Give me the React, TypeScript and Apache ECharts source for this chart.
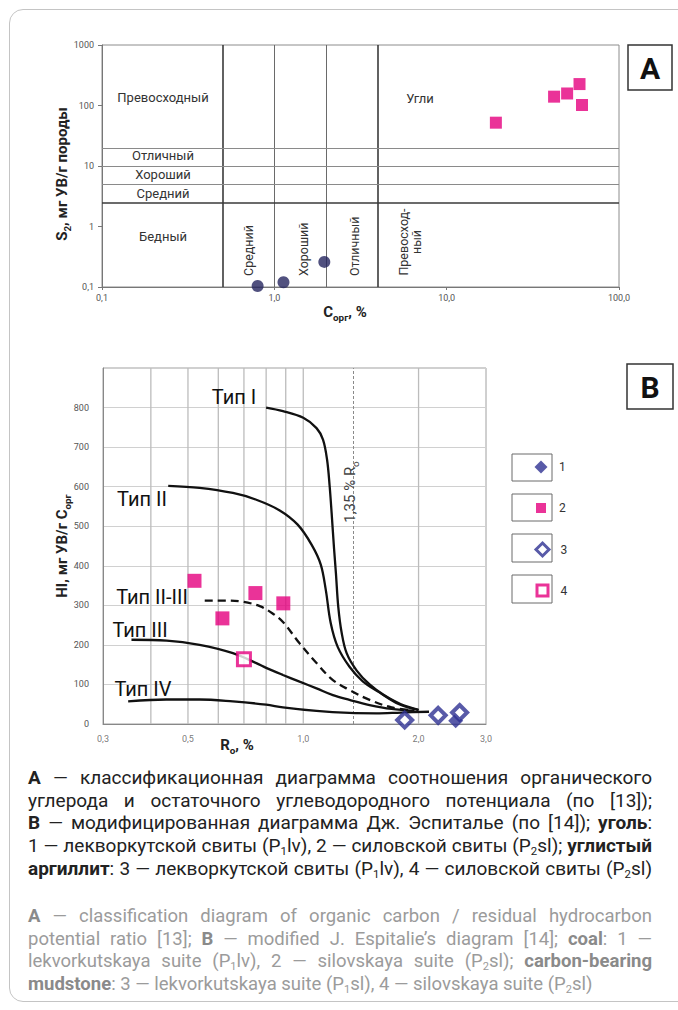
import React, { useEffect, useRef } from "react";
import * as echarts from "echarts";

const FONT = "Roboto, 'Noto Sans', 'DejaVu Sans', sans-serif";

// ---------- Diagram A : S2 vs Corg (log-log) ----------
const aCoalPoints: number[][] = [[19.3, 52], [42, 140], [50, 158], [59, 226], [61, 102]];
const aMudstonePoints: number[][] = [[0.8, 0.104], [1.13, 0.12], [1.95, 0.26]];
const aCorgBounds: number[] = [0.5, 1, 2, 4];
const aS2Bounds: number[] = [20, 10, 5, 2.5];

// ---------- Diagram B : HI vs Ro ----------
const bTypeI: number[][] = [
  [0.8, 800], [0.885, 791], [1.0, 774], [1.083, 748], [1.126, 719], [1.154, 668], [1.172, 601],
  [1.186, 533], [1.203, 445], [1.217, 381], [1.234, 297], [1.26, 230], [1.298, 179], [1.379, 135],
  [1.49, 100], [1.62, 74], [1.8, 50], [2.0, 36],
];
const bTypeII: number[][] = [
  [0.444, 602], [0.536, 597], [0.655, 584], [0.754, 567], [0.868, 540], [0.967, 504], [1.052, 453],
  [1.111, 403], [1.145, 339], [1.179, 256], [1.23, 195], [1.322, 144], [1.43, 108], [1.58, 80],
  [1.78, 50], [2.0, 35],
];
const bTypeII_III: number[][] = [
  [0.553, 312], [0.63, 312], [0.696, 309], [0.77, 298], [0.83, 280], [0.885, 258], [0.978, 204],
  [1.083, 154], [1.195, 111], [1.32, 86], [1.49, 61], [1.7, 42], [1.95, 34],
];
const bTypeIII: number[][] = [
  [0.356, 213], [0.44, 211], [0.536, 200], [0.655, 179], [0.754, 154], [0.8, 142], [0.885, 124],
  [0.978, 107], [1.083, 90], [1.195, 73], [1.32, 61], [1.49, 48], [1.7, 38], [1.95, 33],
];
const bTypeIV: number[][] = [
  [0.349, 57], [0.439, 62], [0.536, 62], [0.655, 57], [0.8, 49], [0.885, 42], [1.083, 33],
  [1.32, 28], [1.55, 27], [1.8, 29], [2.13, 31],
];
const bCoalLv: number[][] = [[2.5, 8]];
const bCoalSl: number[][] = [[0.52, 362], [0.615, 267], [0.75, 331], [0.887, 305]];
const bMudLv: number[][] = [[1.84, 10], [2.25, 22], [2.56, 29]];
const bMudSl: number[][] = [[0.7, 164]];
const bXTickLabels: number[] = [0.3, 0.5, 1, 2, 3];
const bXGridValues: number[] = [0.4, 0.5, 0.6, 0.7, 0.8, 0.9, 1, 2];
const bHIRange: number[] = [0, 900];
const bRoThreshold = 1.35;
const legendNames: string[] = ["1", "2", "3", "4"];

const PINK = "#e5007e";
const NAVY = "#2e3192";
const NAVY_A = "#26265f";

const comma = (v: number) => v.toFixed(1).replace(".", ",");

function buildOption() {
  const curve = (name: string, data: number[][], dashed = false) => ({
    type: "line",
    name,
    xAxisIndex: 1,
    yAxisIndex: 1,
    data,
    smooth: 0.35,
    showSymbol: false,
    symbol: "none",
    silent: true,
    z: 3,
    lineStyle: { color: "#111", width: 2.3, type: dashed ? [8, 5] : "solid" },
  });

  const gridLine = (v: number) => ({
    type: "line",
    name: "grid-" + v,
    xAxisIndex: 1,
    yAxisIndex: 1,
    data: bHIRange.map((h) => [v, h]),
    showSymbol: false,
    symbol: "none",
    silent: true,
    z: 1,
    lineStyle: { color: "#bcbcbc", width: 1.3, type: "solid" },
  });

  const legendLayout = [
    { icon: "diamond", size: 13, cy: 467, style: { color: NAVY } },
    { icon: "rect", size: 10, cy: 507, style: { color: PINK } },
    { icon: "diamond", size: 13, cy: 548, style: { color: "#fff", borderColor: NAVY, borderWidth: 3 } },
    { icon: "rect", size: 11, cy: 589, style: { color: "#fff", borderColor: PINK, borderWidth: 3 } },
  ];

  const richTitle = (size: number, color = "#222", bold = true) => ({
    b: { fontSize: size, fontWeight: bold ? "bold" : "normal", fontFamily: FONT, lineHeight: 20, fill: color, color },
    s: { fontSize: size * 0.66, fontWeight: bold ? "bold" : "normal", fontFamily: FONT, lineHeight: 12, verticalAlign: "bottom", fill: color, color },
  });

  const txt = (text: string, x: number, y: number, size: number, extra: any = {}) => ({
    type: "text",
    x,
    y,
    z: 50,
    silent: true,
    rotation: extra.rotation || 0,
    style: {
      text,
      fontSize: size,
      fontFamily: FONT,
      fontWeight: extra.weight || "normal",
      fill: extra.color || "#333",
      align: extra.align || "center",
      verticalAlign: "middle",
      lineHeight: extra.lineHeight,
    },
  });

  const richTxt = (text: string, x: number, y: number, size: number, rotation = 0, color = "#222", bold = true) => ({
    type: "text",
    x,
    y,
    z: 50,
    silent: true,
    rotation,
    style: { text, align: "center", verticalAlign: "middle", rich: richTitle(size, color, bold) },
  });

  const box = (x: number, y: number, w: number, h: number, stroke = "#333", lw = 1.5) => ({
    type: "rect",
    z: 40,
    silent: true,
    shape: { x, y, width: w, height: h },
    style: { fill: "#fff", stroke, lineWidth: lw },
  });

  const thinLine = { color: "#6a6a6a", width: 1, type: "solid" };
  const thickLine = { color: "#3a3a3a", width: 1.6, type: "solid" };
  const hLine = { color: "#8a8a8a", width: 1, type: "solid" };

  return {
    animation: false,
    textStyle: { fontFamily: FONT },
    grid: [
      { left: 102, top: 45, width: 517, height: 242, show: true, borderColor: "#8c8c8c", borderWidth: 1 },
      { left: 103, top: 368, width: 383, height: 356, show: true, borderColor: "#a0a0a0", borderWidth: 1 },
    ],
    xAxis: [
      {
        gridIndex: 0,
        type: "log",
        logBase: 10,
        min: 0.1,
        max: 100,
        axisLine: { lineStyle: { color: "#777" } },
        axisTick: { show: true, length: 3, lineStyle: { color: "#777" } },
        axisLabel: { fontSize: 9, color: "#555", margin: 6, formatter: (v: number) => comma(v) },
        splitLine: { show: false },
        minorTick: { show: false },
      },
      {
        gridIndex: 1,
        type: "log",
        logBase: 10,
        min: 0.3,
        max: 3,
        axisLine: { lineStyle: { color: "#888" } },
        axisTick: { show: false },
        axisLabel: { show: false },
        splitLine: { show: false },
        minorTick: { show: false },
      },
    ],
    yAxis: [
      {
        gridIndex: 0,
        type: "log",
        logBase: 10,
        min: 0.1,
        max: 1000,
        axisLine: { show: true, lineStyle: { color: "#777" } },
        axisTick: { show: true, length: 4, lineStyle: { color: "#777" } },
        axisLabel: {
          fontSize: 9,
          color: "#555",
          margin: 8,
          formatter: (v: number) => (v < 1 ? comma(v) : String(Math.round(v))),
        },
        splitLine: { show: false },
        minorTick: { show: false },
      },
      {
        gridIndex: 1,
        type: "value",
        min: bHIRange[0],
        max: bHIRange[1],
        interval: 100,
        axisLine: { show: true, lineStyle: { color: "#888" } },
        axisTick: { show: false },
        axisLabel: {
          fontSize: 9,
          color: "#555",
          margin: 14,
          formatter: (v: number) => (v === 900 ? "" : String(v)),
        },
        splitLine: { show: true, lineStyle: { color: "#d0d0d0", width: 1 } },
      },
    ],
    legend: legendNames.map((name, i) => {
      const d = legendLayout[i];
      return {
        data: [name],
        orient: "vertical",
        left: 541 - d.size / 2,
        top: d.cy - d.size / 2,
        padding: 0,
        itemWidth: d.size,
        itemHeight: d.size,
        icon: d.icon,
        itemStyle: d.style,
        selectedMode: false,
        z: 60,
        textStyle: {
          fontSize: 12,
          color: "#333",
          lineHeight: d.size,
          padding: [0, 0, 0, 559 - (541 + d.size / 2 + 5)],
        },
      };
    }),
    series: [
      // ---- A ----
      {
        type: "scatter",
        name: "A-coal",
        xAxisIndex: 0,
        yAxisIndex: 0,
        data: aCoalPoints,
        symbol: "rect",
        symbolSize: 12,
        itemStyle: { color: PINK },
        z: 5,
        markLine: {
          silent: true,
          z: 1,
          symbol: ["none", "none"],
          label: { show: false },
          lineStyle: { color: "#6a6a6a", width: 1, type: "solid" },
          data: [
            ...aCorgBounds.map((v) => ({ xAxis: v, lineStyle: v === 0.5 || v === 4 ? thickLine : thinLine })),
            ...aS2Bounds.map((v) => ({ yAxis: v, lineStyle: v === 2.5 ? thickLine : hLine })),
          ],
        },
      },
      {
        type: "scatter",
        name: "A-mud",
        xAxisIndex: 0,
        yAxisIndex: 0,
        data: aMudstonePoints,
        symbol: "circle",
        symbolSize: 12,
        itemStyle: { color: NAVY_A },
        z: 5,
      },
      // ---- B helpers: tick labels + 1.35 % Ro line ----
      {
        type: "scatter",
        name: "B-ticks",
        xAxisIndex: 1,
        yAxisIndex: 1,
        data: bXTickLabels.map((v) => [v, 0]),
        symbolSize: 1,
        itemStyle: { color: "transparent" },
        silent: true,
        z: 1,
        label: {
          show: true,
          position: "bottom",
          distance: 10,
          fontSize: 9,
          color: "#555",
          formatter: (p: any) => comma(p.value[0]),
        },
        markLine: {
          silent: true,
          z: 2,
          symbol: ["none", "none"],
          label: { show: false },
          data: [{ xAxis: bRoThreshold, lineStyle: { color: "#8a8a8a", width: 1, type: [3, 2] } }],
        },
      },
      ...bXGridValues.map(gridLine),
      curve("Тип I", bTypeI),
      curve("Тип II", bTypeII),
      curve("Тип II-III", bTypeII_III, true),
      curve("Тип III", bTypeIII),
      curve("Тип IV", bTypeIV),
      {
        type: "scatter",
        name: "1",
        xAxisIndex: 1,
        yAxisIndex: 1,
        data: bCoalLv,
        symbol: "diamond",
        symbolSize: 15,
        itemStyle: { color: NAVY },
        z: 6,
      },
      {
        type: "scatter",
        name: "2",
        xAxisIndex: 1,
        yAxisIndex: 1,
        data: bCoalSl,
        symbol: "rect",
        symbolSize: 14,
        itemStyle: { color: PINK },
        z: 6,
      },
      {
        type: "scatter",
        name: "3",
        xAxisIndex: 1,
        yAxisIndex: 1,
        data: bMudLv,
        symbol: "diamond",
        symbolSize: 15,
        itemStyle: { color: "#fff", borderColor: NAVY, borderWidth: 4 },
        z: 6,
      },
      {
        type: "scatter",
        name: "4",
        xAxisIndex: 1,
        yAxisIndex: 1,
        data: bMudSl,
        symbol: "rect",
        symbolSize: 13,
        itemStyle: { color: "#fff", borderColor: PINK, borderWidth: 3 },
        z: 6,
      },
    ],
    graphic: [
      // ----- A annotations -----
      txt("Превосходный", 163, 97, 13),
      txt("Отличный", 163, 155, 13),
      txt("Хороший", 163, 174, 13),
      txt("Средний", 163, 193, 13),
      txt("Бедный", 163, 236, 13),
      txt("Угли", 420, 98, 13),
      txt("Средний", 248, 276, 12.5, { rotation: Math.PI / 2, align: "left" }),
      txt("Хороший", 303, 276, 12.5, { rotation: Math.PI / 2, align: "left" }),
      txt("Отличный", 354, 276, 12.5, { rotation: Math.PI / 2, align: "left" }),
      txt("Превосход-\nный", 410, 242, 12.5, { rotation: Math.PI / 2, align: "center", lineHeight: 13 }),
      richTxt("{b|S}{s|2}{b|, мг УВ/г породы}", 62, 174, 15, Math.PI / 2),
      richTxt("{b|C}{s|орг}{b|, %}", 345, 312, 15),
      box(628, 45, 44, 45),
      txt("А", 650, 68, 30, { weight: "bold", color: "#111" }),
      // ----- B annotations -----
      box(627, 364, 46, 45),
      txt("В", 650, 387, 30, { weight: "bold", color: "#111" }),
      box(512, 454, 40, 27, "#6a6a6a", 1),
      box(512, 494, 40, 27, "#6a6a6a", 1),
      box(512, 534, 40, 28, "#6a6a6a", 1),
      box(512, 575, 40, 28, "#6a6a6a", 1),
      richTxt("{b|HI, мг УВ/г C}{s|орг}", 62, 546, 15, Math.PI / 2),
      richTxt("{b|R}{s|o}{b|, %}", 237, 745, 15),
      txt("Тип I", 234, 397, 20, { color: "#111" }),
      txt("Тип II", 142, 499, 20, { color: "#111" }),
      txt("Тип II-III", 152, 597, 20, { color: "#111" }),
      txt("Тип III", 140, 630, 20, { color: "#111" }),
      txt("Тип IV", 143, 689, 20, { color: "#111" }),
      richTxt("{b|1,35 % R}{s|o}", 350, 492, 15, Math.PI / 2, "#444", false),
    ],
  };
}

const J: React.CSSProperties = {
  textAlign: "justify",
  textAlignLast: "justify",
  whiteSpace: "nowrap",
};
const Sub = ({ c }: { c: string }) => (
  <sub style={{ fontSize: "0.6em", verticalAlign: "-0.3em", lineHeight: 0 }}>{c}</sub>
);

export default function App() {
  const ref = useRef<HTMLDivElement>(null);
  useEffect(() => {
    if (!ref.current) return;
    const chart = echarts.init(ref.current, undefined, { renderer: "svg" });
    chart.setOption(buildOption() as any);
    return () => chart.dispose();
  }, []);

  const engBold: React.CSSProperties = { fontWeight: "bold", color: "#8a8a8a" };

  return (
    <div
      style={{
        position: "absolute",
        left: 0,
        top: 0,
        width: 678,
        height: 1010,
        overflow: "hidden",
        background: "#fff",
        fontFamily: FONT,
      }}
    >
      <div
        style={{
          position: "absolute",
          left: 9,
          top: 9,
          width: 720,
          height: 993,
          border: "1px solid #c4c4c4",
          borderRadius: 14,
          boxSizing: "border-box",
        }}
      />
      <div ref={ref} style={{ position: "absolute", left: 0, top: 0, width: 678, height: 760 }} />
      <div
        style={{
          position: "absolute",
          left: 28,
          top: 767,
          width: 624,
          fontSize: 19,
          lineHeight: "22.7px",
          color: "#222",
        }}
      >
        <div style={J}>
          <b>А</b> — классификационная диаграмма соотношения органического
        </div>
        <div style={J}>углерода и остаточного углеводородного потенциала (по [13]);</div>
        <div style={J}>
          <b>В</b> — модифицированная диаграмма Дж. Эспиталье (по [14]); <b>уголь</b>:
        </div>
        <div style={J}>
          1 — лекворкутской свиты (P<Sub c="1" />lv), 2 — силовской свиты (P<Sub c="2" />sl); <b>углистый</b>
        </div>
        <div style={J}>
          <b>аргиллит</b>: 3 — лекворкутской свиты (P<Sub c="1" />lv), 4 — силовской свиты (P<Sub c="2" />sl)
        </div>
      </div>
      <div
        style={{
          position: "absolute",
          left: 28,
          top: 905,
          width: 624,
          fontSize: 18.5,
          lineHeight: "22.7px",
          color: "#9b9b9b",
        }}
      >
        <div style={J}>
          <b style={engBold}>A</b> — classification diagram of organic carbon / residual hydrocarbon
        </div>
        <div style={J}>
          potential ratio [13]; <b style={engBold}>B</b> — modified J. Espitalie’s diagram [14]; <b style={engBold}>coal</b>: 1 —
        </div>
        <div style={J}>
          lekvorkutskaya suite (P<Sub c="1" />lv), 2 — silovskaya suite (P<Sub c="2" />sl); <b style={engBold}>carbon-bearing</b>
        </div>
        <div style={{ whiteSpace: "nowrap" }}>
          <b style={engBold}>mudstone</b>: 3 — lekvorkutskaya suite (P<Sub c="1" />sl), 4 — silovskaya suite (P<Sub c="2" />sl)
        </div>
      </div>
    </div>
  );
}
